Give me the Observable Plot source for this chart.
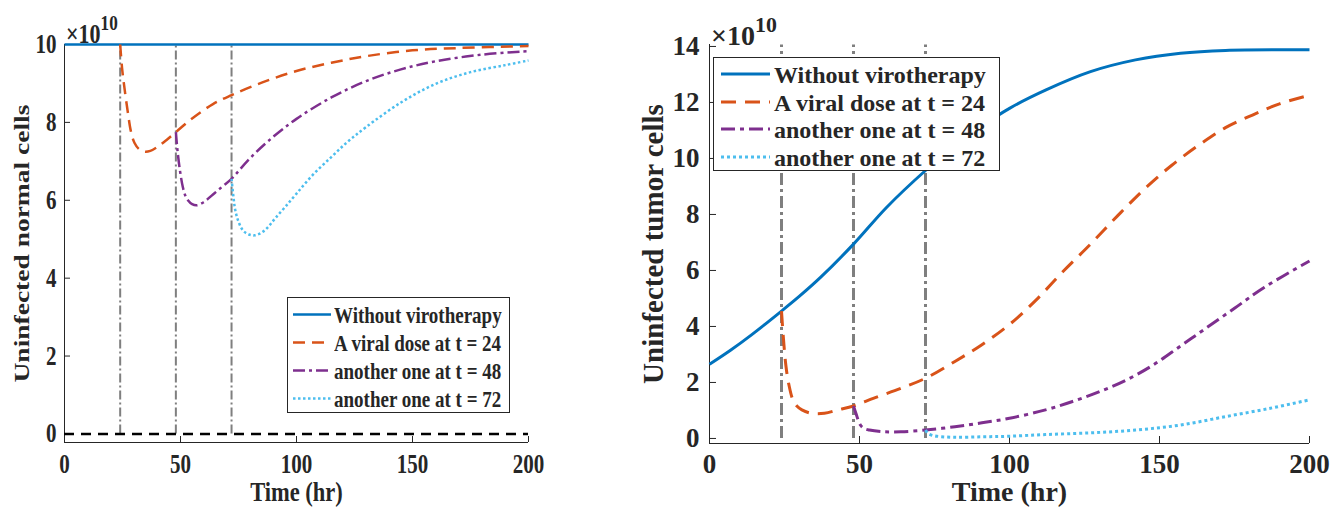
<!DOCTYPE html>
<html>
<head>
<meta charset="utf-8">
<script src="https://cdn.jsdelivr.net/npm/d3@7"></script>
<script src="https://cdn.jsdelivr.net/npm/@observablehq/plot@0.6"></script>
<style>
  html, body { margin: 0; padding: 0; background: #fff; }
  #wrap { position: relative; width: 1344px; height: 508px; overflow: hidden; font-family: "Liberation Serif", "Times New Roman", serif; color: #262626; }
  .panel { position: absolute; top: 0; }
  .exp { position: absolute; font-weight: bold; line-height: 1; white-space: nowrap; transform-origin: 0 50%; }
  .exp sup { font-size: 0.78em; vertical-align: 0.6em; line-height: 0; }
  .legend { position: absolute; box-sizing: border-box; background: #fff; border: 1.5px solid #262626; font-weight: bold; }
  .legend .row { position: absolute; left: 0; right: 0; white-space: nowrap; }
  .legend svg { position: absolute; top: 0; }
  .legend span { position: absolute; top: 0; line-height: 1; transform-origin: 0 50%; }
</style>
</head>
<body>
<div id="wrap"></div>
<script>
// ---- data (values in units of 1e10 cells, time in hours) ----
const doseTimes = [24, 48, 72];
const xTicks = [0, 50, 100, 150, 200];
const normalTicks = [0, 2, 4, 6, 8, 10];
const tumorTicks = [0, 2, 4, 6, 8, 10, 12, 14];
const seriesNames = ["Without virotherapy", "A viral dose at t = 24", "another one at t = 48", "another one at t = 72"];
const seriesColors = ["#0072BD", "#D95319", "#7E2F8E", "#4DBEEE"];

// uninfected normal cells
const normalWithout = [[0, 10], [200, 10]];
const normalDose24 = [[24, 10], [24.8, 9.4], [25.7, 8.95], [27.2, 8.3], [28.7, 7.75], [30.2, 7.47], [32, 7.32], [34.5, 7.25], [37, 7.27], [40, 7.37], [44, 7.55], [48, 7.75], [55, 8.1], [64, 8.47], [72, 8.7], [85, 9.02], [100, 9.32], [115, 9.53], [130, 9.7], [150, 9.85], [170, 9.91], [200, 9.96]];
const normalDose48 = [[48, 7.75], [48.7, 7.28], [49.8, 6.75], [51, 6.34], [52, 6.13], [53.2, 6.0], [55, 5.9], [57, 5.87], [60, 5.95], [64, 6.15], [68, 6.35], [72, 6.55], [79, 7.02], [88, 7.53], [100, 8.09], [115, 8.64], [130, 9.06], [145, 9.36], [160, 9.57], [180, 9.74], [200, 9.83]];
const normalDose72 = [[72, 6.55], [72.8, 6.1], [73.6, 5.75], [75, 5.45], [77, 5.22], [79.5, 5.12], [82, 5.1], [85, 5.17], [88, 5.33], [91, 5.55], [95, 5.82], [100, 6.17], [107, 6.65], [115, 7.11], [122, 7.5], [130, 7.88], [145, 8.51], [160, 8.99], [175, 9.29], [190, 9.47], [200, 9.59]];

// uninfected tumor cells
const tumorWithout = [[0, 2.65], [7, 3.15], [14, 3.7], [24, 4.55], [30, 5.08], [37, 5.75], [48, 6.94], [59, 8.25], [72, 9.57], [82, 10.47], [90, 11.1], [100, 11.79], [112, 12.44], [127, 13.1], [142, 13.52], [157, 13.76], [172, 13.86], [200, 13.88]];
const tumorDose24 = [[24, 4.55], [24.5, 3.77], [25.5, 2.57], [26.5, 1.9], [27.8, 1.38], [29.2, 1.15], [30.8, 1.02], [33.8, 0.9], [38.3, 0.9], [42.8, 1.02], [48, 1.16], [54.8, 1.44], [63.8, 1.79], [72, 2.15], [81.8, 2.75], [90.8, 3.35], [100, 4.07], [109, 4.96], [118, 5.98], [127, 6.94], [136, 7.95], [145, 8.91], [154, 9.75], [163, 10.47], [172, 11.1], [181, 11.55], [190, 11.95], [200, 12.26]];
const tumorDose48 = [[48, 1.16], [48.8, 0.9], [50.3, 0.48], [51.5, 0.36], [53.3, 0.3], [57.8, 0.24], [63.8, 0.24], [72, 0.3], [81.8, 0.42], [90.8, 0.56], [100, 0.72], [112, 1.02], [121, 1.32], [130, 1.67], [139, 2.09], [148, 2.63], [157, 3.3], [165, 3.9], [175, 4.65], [185, 5.4], [200, 6.34]];
const tumorDose72 = [[72, 0.3], [72.8, 0.18], [74, 0.12], [75.8, 0.08], [81.8, 0.04], [90.8, 0.06], [100, 0.08], [112, 0.14], [127, 0.2], [142, 0.3], [157, 0.48], [172, 0.78], [187, 1.08], [200, 1.38]];

// ---- styling ----
const FONT = '"Liberation Serif", "Times New Roman", serif';
const INK = "#262626";
const GRAY = "#7f7f7f";

function panel(cfg) {
  const plotW = cfg.width - cfg.marginLeft - cfg.marginRight;
  const plotH = cfg.height - cfg.marginTop - cfg.marginBottom;
  const [y0] = cfg.yDomain;
  const seriesMarks = cfg.series.map((data, i) =>
    Plot.line(data, {
      x: d => d[0], y: d => d[1], curve: "catmull-rom",
      stroke: seriesColors[i], strokeWidth: cfg.lineWidth,
      strokeDasharray: cfg.dashes[i], strokeLinecap: "butt"
    })
  );
  return Plot.plot({
    width: cfg.width, height: cfg.height,
    marginLeft: cfg.marginLeft, marginRight: cfg.marginRight,
    marginTop: cfg.marginTop, marginBottom: cfg.marginBottom,
    style: { fontFamily: FONT, fontWeight: "bold", fontSize: cfg.tickFont + "px", color: INK, background: "none", overflow: "visible" },
    x: { domain: [0, 200] },
    y: { domain: cfg.yDomain },
    marks: [
      // axis spines
      Plot.ruleX([0], { stroke: INK, strokeWidth: 1 }),
      Plot.ruleY([y0], { stroke: INK, strokeWidth: 1 }),
      // inward tick marks
      Plot.ruleX(xTicks, { x: d => d, insetTop: plotH - cfg.tickLen, stroke: INK }),
      Plot.ruleY(cfg.yTicks, { y: d => d, insetRight: plotW - cfg.tickLen, stroke: INK }),
      Plot.axisX(xTicks, { tickSize: 0, tickPadding: cfg.xPad, label: null, fontSize: cfg.tickFont, fontFamily: FONT }),
      Plot.axisY(cfg.yTicks, { tickSize: 0, tickPadding: cfg.yPad, label: null, fontSize: cfg.tickFont, fontFamily: FONT }),
      // dose times
      Plot.ruleX(doseTimes, { x: d => d, y1: 0, y2: cfg.doseTop, stroke: GRAY, strokeWidth: cfg.doseWidth, strokeDasharray: cfg.doseDash }),
      ...seriesMarks,
      ...(cfg.extra || []),
      Plot.text(["Time (hr)"], { frameAnchor: "bottom", dy: cfg.xLabelDy, fontSize: cfg.labelFont, fontFamily: FONT, textAnchor: "middle", lineAnchor: "middle" }),
      Plot.text([cfg.yLabel], { frameAnchor: "left", dx: cfg.yLabelDx, rotate: -90, fontSize: cfg.yLabelFont, fontFamily: FONT, textAnchor: "middle", lineAnchor: "middle" })
    ]
  });
}

// stretch glyphs vertically (on screen) about each text's own centre
function stretchText(svg, k) {
  if (k === 1) return;
  svg.querySelectorAll("text").forEach(el => {
    const b = el.getBBox();
    const cx = b.x + b.width / 2, cy = b.y + b.height / 2;
    const t = el.getAttribute("transform") || "";
    const s = /rotate/.test(t) ? `scale(${k},1)` : `scale(1,${k})`;
    el.setAttribute("transform", `${t} translate(${cx},${cy}) ${s} translate(${-cx},${-cy})`);
  });
}

const wrap = document.getElementById("wrap");

const left = panel({
  width: 540, height: 508, marginLeft: 64, marginRight: 12, marginTop: 44, marginBottom: 66,
  yDomain: [-0.22, 10], yTicks: normalTicks, tickFont: 21, labelFont: 22.5, yLabelFont: 22, tickLen: 6,
  xPad: 14, yPad: 8, xLabelDy: 49, yLabelDx: -43,
  doseTop: 10, doseWidth: 2, doseDash: "9,3,2,3",
  lineWidth: 2.5, dashes: [null, "12,7", "12,4,3,4", "2.5,2.5"],
  series: [normalWithout, normalDose24, normalDose48, normalDose72],
  extra: [Plot.ruleY([0], { y: d => d, stroke: "#000", strokeWidth: 2.5, strokeDasharray: "10,7" })],
  yLabel: "Uninfected normal cells"
});
left.classList.add("panel");
left.style.left = "0px";
wrap.appendChild(left);
stretchText(left, 1.25);

const right = panel({
  width: 704, height: 508, marginLeft: 69, marginRight: 35, marginTop: 44, marginBottom: 65,
  yDomain: [-0.18, 14.07], yTicks: tumorTicks, tickFont: 27, labelFont: 28, yLabelFont: 29, tickLen: 7,
  xPad: 10, yPad: 10, xLabelDy: 49, yLabelDx: -56,
  doseTop: 14.05, doseWidth: 3, doseDash: "12,4,3,4",
  lineWidth: 3, dashes: [null, "15,9", "14,5,4,5", "3,3"],
  series: [tumorWithout, tumorDose24, tumorDose48, tumorDose72],
  yLabel: "Uninfected tumor cells"
});
right.classList.add("panel");
right.style.left = "640px";
wrap.appendChild(right);

// exponent labels
function exponent(x, y, size, k) {
  const d = document.createElement("div");
  d.className = "exp";
  d.style.left = x + "px";
  d.style.top = y + "px";
  d.style.fontSize = size + "px";
  d.style.transform = `scaleY(${k})`;
  d.innerHTML = "×10<sup>10</sup>";
  wrap.appendChild(d);
}
exponent(66, 23, 22, 1.25);
exponent(711, 22, 28, 1);

// legends
function legend(cfg) {
  const box = document.createElement("div");
  box.className = "legend";
  Object.assign(box.style, { left: cfg.x + "px", top: cfg.y + "px", width: cfg.w + "px", height: cfg.h + "px", fontSize: cfg.font + "px" });
  seriesNames.forEach((name, i) => {
    const cy = cfg.rows[i];
    const row = document.createElement("div");
    row.className = "row";
    row.style.top = (cy - cfg.font / 2) + "px";
    row.style.height = cfg.font + "px";
    const svg = d3.create("svg").attr("width", cfg.sampleX1 + 2).attr("height", cfg.font).style("left", "0px");
    svg.append("line")
      .attr("x1", cfg.sampleX0).attr("x2", cfg.sampleX1)
      .attr("y1", cfg.font / 2).attr("y2", cfg.font / 2)
      .attr("stroke", seriesColors[i]).attr("stroke-width", cfg.lineWidth)
      .attr("stroke-dasharray", cfg.dashes[i]);
    row.appendChild(svg.node());
    const t = document.createElement("span");
    t.textContent = name;
    t.style.left = cfg.textX + "px";
    t.style.top = (cfg.font * 0.05) + "px";
    t.style.transform = `scaleY(${cfg.k})`;
    row.appendChild(t);
    box.appendChild(row);
  });
  wrap.appendChild(box);
}
legend({ x: 287, y: 297, w: 223, h: 116, font: 19, k: 1.25, rows: [16, 44, 72, 100], sampleX0: 5, sampleX1: 43, textX: 46, lineWidth: 2.5, dashes: [null, "12,7", "12,4,3,4", "2.5,2.5"] });
legend({ x: 713, y: 57, w: 287, h: 114, font: 24, k: 1, rows: [16, 44, 71, 99], sampleX0: 7, sampleX1: 56, textX: 60, lineWidth: 3, dashes: [null, "15,9", "14,5,4,5", "3,3"] });
</script>
</body>
</html>
